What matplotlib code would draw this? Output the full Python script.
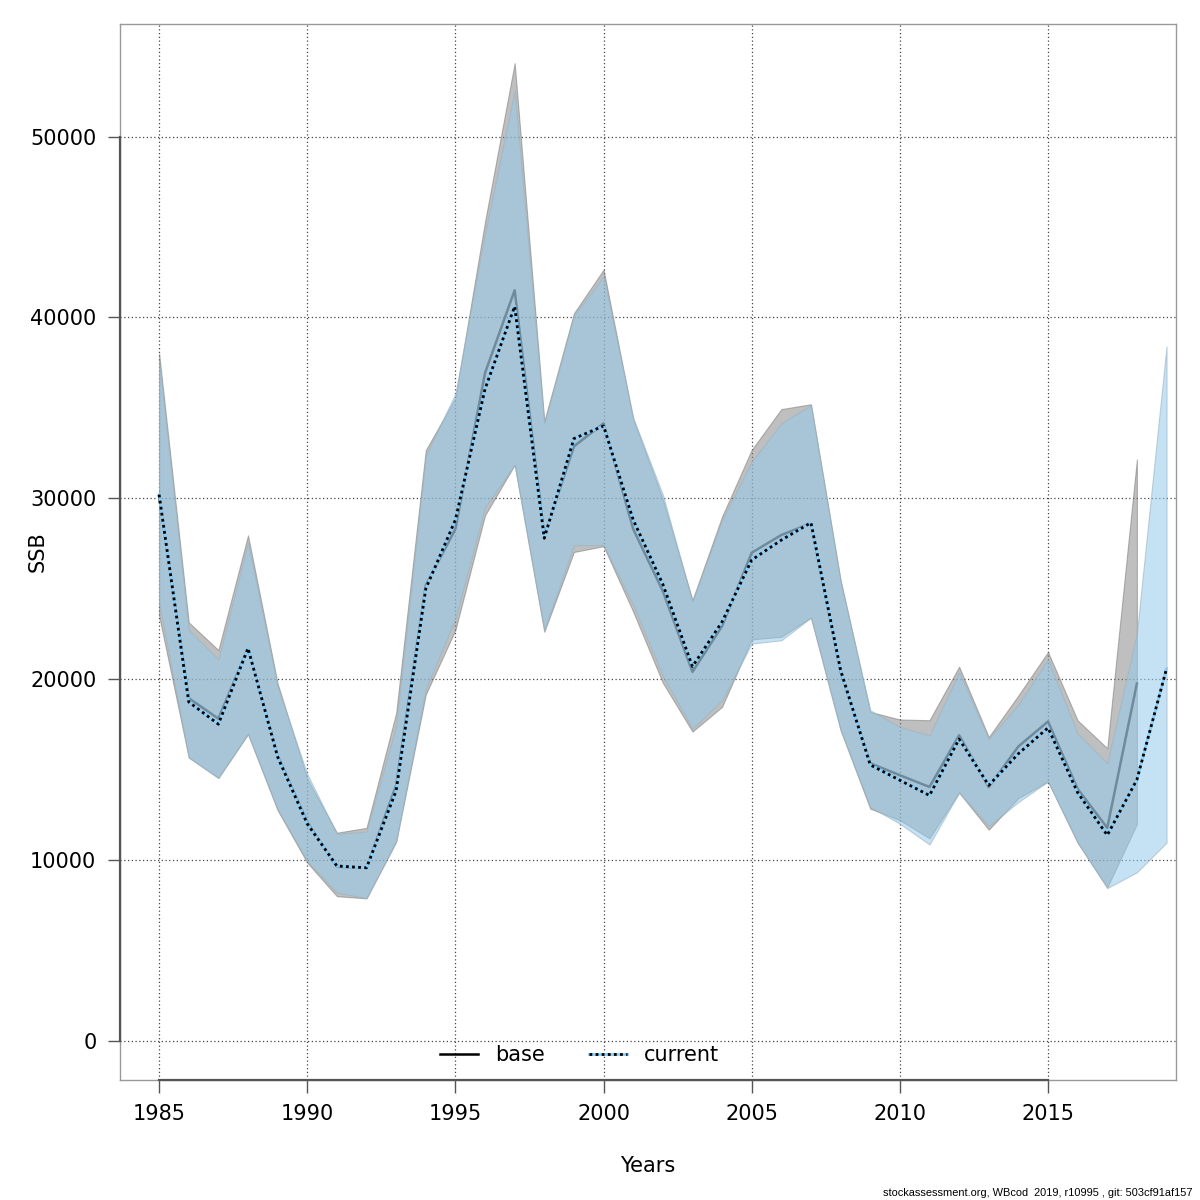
import numpy as np
import matplotlib
matplotlib.use("Agg")
import matplotlib.pyplot as plt
from matplotlib.lines import Line2D
from matplotlib.legend_handler import HandlerTuple

# SSB estimates (base run ends 2018, current 2019)
years_base = list(range(1985, 2019))
years_cur = list(range(1985, 2020))

base_ssb = [30100, 18950, 17820, 21710, 15770, 12090, 9630, 9570, 14140, 25190,
            28300, 36930, 41500, 27920, 32870, 34140, 28300, 24870, 20400, 22930,
            26990, 27970, 28620, 20400, 15350, 14690, 14040, 16900, 14030, 16280,
            17660, 13930, 11780, 19760]
base_hi = [38000, 23140, 21610, 27950, 19760, 14500, 11510, 11780, 18130, 32660,
           35550, 45300, 54060, 34260, 40230, 42640, 34390, 29950, 24370, 28990,
           32680, 34930, 35200, 25480, 18190, 17770, 17730, 20690, 16800, 19100,
           21500, 17720, 16180, 32150]
base_lo = [23500, 15670, 14540, 16950, 12750, 9850, 8000, 7880, 11000, 19150,
           22720, 29060, 31850, 22620, 27030, 27350, 23730, 19800, 17100, 18470,
           22200, 22340, 23410, 17180, 12840, 12200, 11200, 13730, 11680, 13420,
           14340, 10960, 8480, 11990]

cur_ssb = [30200, 18740, 17510, 21710, 15700, 12000, 9670, 9570, 13830, 25000,
           28810, 36040, 40610, 27790, 33300, 34000, 28810, 25250, 20700, 23170,
           26590, 27690, 28650, 20500, 15260, 14410, 13570, 16690, 14130, 15880,
           17310, 13730, 11370, 14440, 20580]
cur_hi = [37600, 22730, 21100, 27540, 19600, 14750, 11450, 11570, 17410, 32350,
          35790, 44670, 52540, 34150, 40100, 42260, 34450, 30200, 24300, 28800,
          32030, 34150, 35150, 25400, 18280, 17360, 16900, 20380, 16700, 18600,
          21090, 17000, 15360, 22530, 38390]
cur_lo = [24200, 15670, 14540, 17000, 12800, 9950, 8200, 7890, 11060, 19460,
          23350, 29500, 31850, 22720, 27410, 27410, 24110, 20180, 17260, 18840,
          21970, 22150, 23400, 17200, 12930, 12010, 10860, 13730, 11880, 13210,
          14340, 10960, 8450, 9320, 10960]

xticks = [1985, 1990, 1995, 2000, 2005, 2010, 2015]
yticks = [0, 10000, 20000, 30000, 40000, 50000]

fig = plt.figure(figsize=(12, 12), dpi=100)
ax = fig.add_axes([0.1, 0.1, 0.88, 0.88])

# R-style 4% axis expansion (x range taken from the base run)
x0, x1 = years_base[0], years_base[-1]
y0, y1 = 0, max(base_hi)
ax.set_xlim(x0 - 0.04 * (x1 - x0), x1 + 0.04 * (x1 - x0))
ax.set_ylim(y0 - 0.04 * (y1 - y0), y1 + 0.04 * (y1 - y0))

# dotted grid
for xt in xticks:
    ax.axvline(xt, color="#444444", lw=0.9, ls=(0, (1, 2)), zorder=1)
for yt in yticks:
    ax.axhline(yt, color="#444444", lw=0.9, ls=(0, (1, 2)), zorder=1)

# base run: line below the bands
ax.plot(years_base, base_ssb, color="black", lw=1.8, zorder=2)
ax.fill_between(years_base, base_lo, base_hi, facecolor=(0.5, 0.5, 0.5, 0.5),
                edgecolor=(0.45, 0.45, 0.45, 0.5), lw=0.8, zorder=3)

# current run
ax.fill_between(years_cur, cur_lo, cur_hi, facecolor=(148/255, 203/255, 237/255, 0.54),
                edgecolor=(0.6, 0.7, 0.75, 0.6), lw=0.8, zorder=4)
ax.plot(years_cur, cur_ssb, color="#87cefa", lw=2.0, zorder=5)
ax.plot(years_cur, cur_ssb, color="black", lw=2.0, ls=(0, (1, 1.2)), zorder=6)

# axes styling
for s in ax.spines.values():
    s.set_color("#999999")
    s.set_linewidth(1.0)
ax.set_xticks(xticks)
ax.set_yticks(yticks)
ax.tick_params(axis="both", direction="out", length=9, width=1.0, color="#555555",
               labelsize=15, pad=8)
ax.set_yticklabels([str(v) for v in yticks])
ax.set_xlabel("Years", fontsize=15)
ax.set_ylabel("SSB", fontsize=15)
ax.xaxis.set_label_coords(0.5, -0.072)
ax.yaxis.set_label_coords(-0.069, 0.5)

# darker axis lines between first and last tick (like R axis())
xl = ax.get_xlim()
yl = ax.get_ylim()
ax.plot([xticks[0], xticks[-1]], [yl[0], yl[0]], color="#555555", lw=1.6,
        clip_on=False, zorder=10)
ax.plot([xl[0], xl[0]], [yticks[0], yticks[-1]], color="#555555", lw=1.6,
        clip_on=False, zorder=10)

# legend
h_base = Line2D([], [], color="black", lw=1.8)
h_cur_a = Line2D([], [], color="#87cefa", lw=2.0)
h_cur_b = Line2D([], [], color="black", lw=2.0, ls=(0, (1, 1.2)))
ax.legend([h_base, (h_cur_a, h_cur_b)], ["base", "current"],
          handler_map={tuple: HandlerTuple(ndivide=1, pad=0)},
          loc="lower center", bbox_to_anchor=(0.435, 0.0), ncol=2, frameon=False,
          fontsize=15, handlelength=1.85, handletextpad=0.8, columnspacing=2.1,
          borderaxespad=0.3)

fig.text(0.994, 0.002, "stockassessment.org, WBcod  2019, r10995 , git: 503cf91af157",
         ha="right", va="bottom", fontsize=7.9, family="Liberation Sans")

fig.savefig("out.png", dpi=100)
